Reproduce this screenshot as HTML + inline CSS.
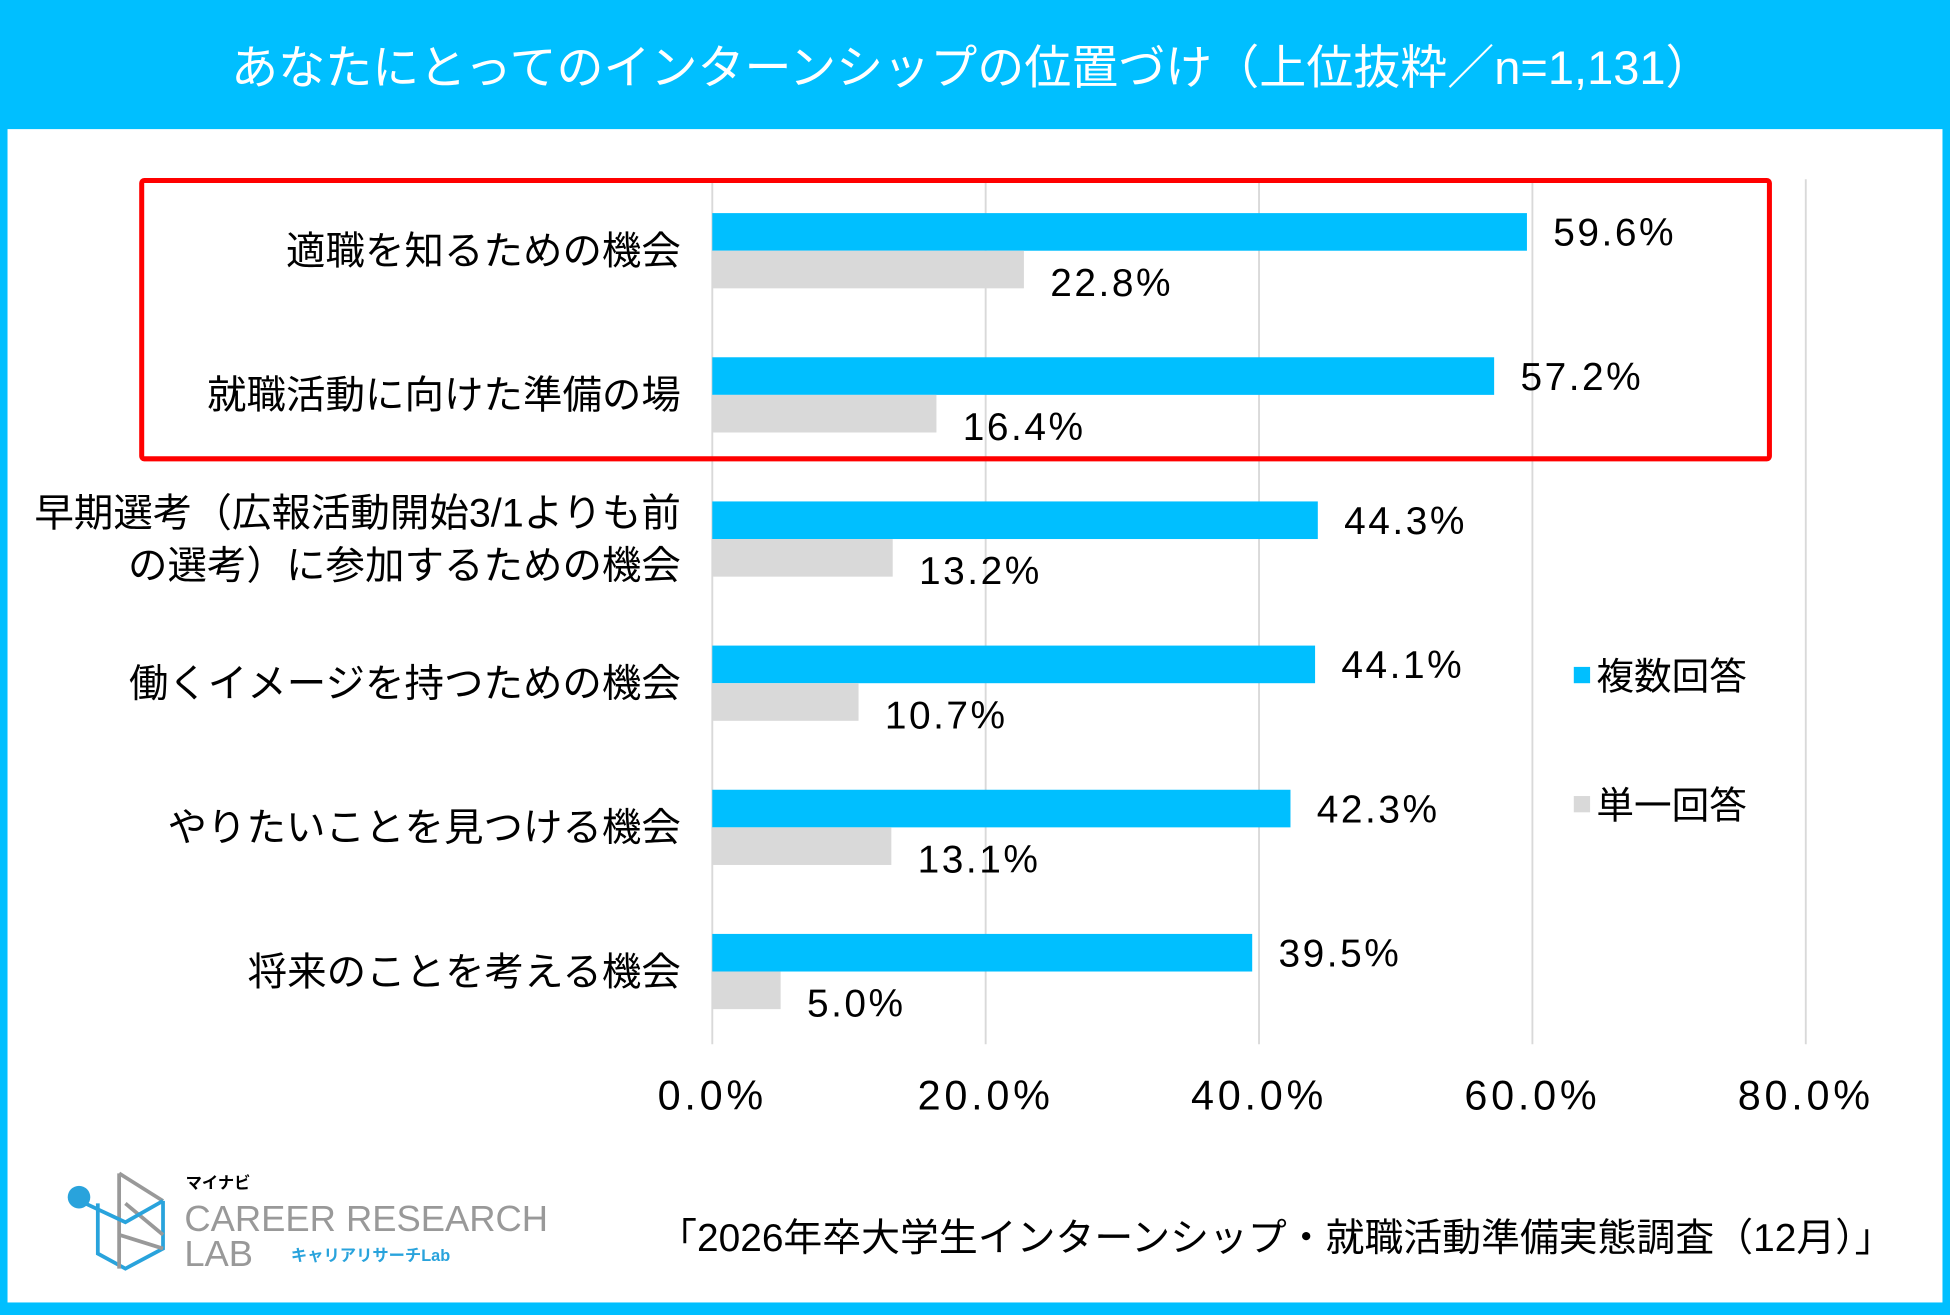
<!DOCTYPE html>
<html><head><meta charset="utf-8">
<style>
html,body{margin:0;padding:0;background:#fff;}
svg{display:block;}
text{font-family:"Liberation Sans","Noto Sans CJK JP",sans-serif;}
</style></head>
<body>
<svg id="chart" width="1950" height="1315" viewBox="0 0 1555 1049" preserveAspectRatio="none" xmlns="http://www.w3.org/2000/svg">
  <rect x="0" y="0" width="1555" height="1049" fill="#00BFFF"/>
  <rect x="6" y="103" width="1543" height="936" fill="#fff"/>
  <text x="775" y="67" text-anchor="middle" font-size="37.5" fill="#fff">あなたにとってのインターンシップの位置づけ（上位抜粋／n=1,131）</text>
  <g id="grid"></g>
  <g id="bars"></g>
  <rect x="113" y="144" width="1298" height="222" fill="none" stroke="#FF0000" stroke-width="4" rx="2"/>
  <g>
    <rect x="1255" y="532" width="13" height="13" fill="#00BFFF"/>
    <text x="1273" y="550" font-size="30" fill="#000">複数回答</text>
    <rect x="1255" y="635" width="13" height="13" fill="#D9D9D9"/>
    <text x="1273" y="653" font-size="30" fill="#000">単一回答</text>
  </g>
  <g>
    <path d="M78 960 L78 1000 L100 1012 L130 996 L130 958" fill="none" stroke="#29A3DC" stroke-width="3"/>
    <path d="M95 936 L95 1012 M95 936 L130 958 M95 985 L130 996 M100 960 L130 985" fill="none" stroke="#999" stroke-width="3"/>
    <path d="M68 960 L100 975 L130 958" fill="none" stroke="#29A3DC" stroke-width="3"/>
    <circle cx="63" cy="955" r="9" fill="#29A3DC"/>
    <text x="148" y="948" font-size="13" font-weight="bold" fill="#000">マイナビ</text>
    <text x="147" y="982" font-size="29" fill="#999">CAREER RESEARCH</text>
    <text x="147" y="1010" font-size="29" fill="#999">LAB</text>
    <text x="232" y="1006" font-size="13" font-weight="bold" fill="#29A3DC">キャリアリサーチLab</text>
  </g>
  <text x="1510" y="998" text-anchor="end" font-size="31" fill="#000">「2026年卒大学生インターンシップ・就職活動準備実態調査（12月）」</text>
</svg>
<script>
const categories = ["適職を知るための機会","就職活動に向けた準備の場","早期選考（広報活動開始3/1よりも前の選考）に参加するための機会","働くイメージを持つための機会","やりたいことを見つける機会","将来のことを考える機会"];
const labelLines = [["適職を知るための機会"],["就職活動に向けた準備の場"],["早期選考（広報活動開始3/1よりも前","の選考）に参加するための機会"],["働くイメージを持つための機会"],["やりたいことを見つける機会"],["将来のことを考える機会"]];
const multipleValues = [59.6,57.2,44.3,44.1,42.3,39.5];
const singleValues = [22.8,16.4,13.2,10.7,13.1,5.0];
const tickValues = [0,20,40,60,80];
const tickLabels = ["0.0%","20.0%","40.0%","60.0%","80.0%"];

const NS="http://www.w3.org/2000/svg";
const axX0=568, axX1=1440, maxV=80, plotTop=143, plotBottom=833, band=115, firstBar=170, barH=30;
const xs=v=>axX0+(v/maxV)*(axX1-axX0);
function mk(tag,attrs,parent,txt){const e=document.createElementNS(NS,tag);for(const k in attrs)e.setAttribute(k,attrs[k]);if(txt!=null)e.textContent=txt;parent.appendChild(e);return e;}
const grid=document.getElementById('grid'), bars=document.getElementById('bars');
tickValues.forEach((t,i)=>{
  const l=mk('line',{x1:xs(t),x2:xs(t),y1:plotTop,y2:plotBottom,stroke:'#D9D9D9','stroke-width':1.5},grid);
  
  
  const tx=mk('text',{x:xs(t),y:885,'text-anchor':'middle','font-size':33,'letter-spacing':3,fill:'#000'},grid,tickLabels[i]);
  
  
});
categories.forEach((c,i)=>{
  const yb=firstBar+i*band;
  const b=mk('rect',{x:axX0,y:yb,width:xs(multipleValues[i])-axX0,height:barH,fill:'#00BFFF'},bars);
  
  
  const g=mk('rect',{x:axX0,y:yb+barH,width:xs(singleValues[i])-axX0,height:barH,fill:'#D9D9D9'},bars);
  
  
  const v1=mk('text',{x:xs(multipleValues[i])+21,y:yb+26,'font-size':31,'letter-spacing':2,fill:'#000'},bars,multipleValues[i].toFixed(1)+'%');
  
  
  const v2=mk('text',{x:xs(singleValues[i])+21,y:yb+barH+36,'font-size':31,'letter-spacing':2,fill:'#000'},bars,singleValues[i].toFixed(1)+'%');
  
  
  const lines=labelLines[i];
  const cy=yb+barH;
  lines.forEach((ln,j)=>{
    const y=cy+11+(j-(lines.length-1)/2)*42;
    const t=mk('text',{x:543,y:y,'text-anchor':'end','font-size':31.5,fill:'#000'},bars,ln);
    
    
  });
});
</script>
</body></html>
